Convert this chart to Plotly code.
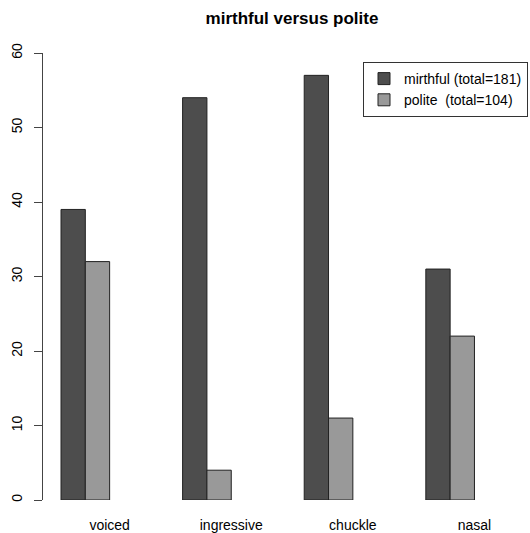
import plotly.graph_objects as go

categories = ["voiced", "ingressive", "chuckle", "nasal"]
mirthful = [39, 54, 57, 31]
polite = [32, 4, 11, 22]
series_names = ["mirthful", "polite"]
series_totals = [181, 104]
y_ticks = [0, 10, 20, 30, 40, 50, 60]

# R-style barplot positions: bar width 1, space 3 between groups
starts = [3 + 5 * i for i in range(len(categories))]
x_m = [s + 0.5 for s in starts]
x_p = [s + 1.5 for s in starts]
x_lab = [s + 2 for s in starts]

FONT = "Liberation Sans, Arial, sans-serif"
L, R, T, B = 43, 39, 53, 33
PW, PH = 530 - L - R, 533 - T - B

fig = go.Figure()
fig.add_trace(go.Bar(
    x=x_m, y=mirthful, width=1,
    name=f"{series_names[0]} (total={series_totals[0]})",
    marker=dict(color="#4d4d4d", line=dict(color="#222222", width=1)),
))
fig.add_trace(go.Bar(
    x=x_p, y=polite, width=1,
    name=f"{series_names[1]}\u00a0 (total={series_totals[1]})",
    marker=dict(color="#999999", line=dict(color="#222222", width=1)),
))

fig.update_layout(
    width=530, height=533,
    margin=dict(l=L, r=R, t=T, b=B, autoexpand=False),
    plot_bgcolor="white", paper_bgcolor="white",
    font=dict(family=FONT, size=14, color="black"),
    barmode="overlay",
    showlegend=True,
    title=dict(
        text="mirthful versus polite",
        font=dict(family=FONT, size=17, color="black", weight="bold"),
        x=292 / 530, xref="container", xanchor="center",
        y=1 - 18 / 533, yref="container", yanchor="middle",
    ),
    legend=dict(
        x=(363 - L) / PW, y=(533 - B - 62) / PH,
        xanchor="left", yanchor="top",
        bordercolor="#333333", borderwidth=1,
        bgcolor="white",
        font=dict(family=FONT, size=14, color="black"),
        traceorder="normal",
    ),
    xaxis=dict(
        range=[2.26, 20.68], automargin=False,
        showgrid=False, zeroline=False, showline=False,
        tickvals=x_lab, ticktext=categories,
        ticks="", ticklabelstandoff=15,
        tickfont=dict(family=FONT, size=14),
    ),
    yaxis=dict(
        range=[0, 60], automargin=False,
        showgrid=False, zeroline=False,
        showline=True, linecolor="#444444", linewidth=1,
        tickvals=y_ticks,
        ticks="outside", ticklen=8, tickcolor="#444444", tickwidth=1,
        tickangle=-90, ticklabelstandoff=6,
        tickfont=dict(family=FONT, size=14),
    ),
)

fig.write_html("out.html")
